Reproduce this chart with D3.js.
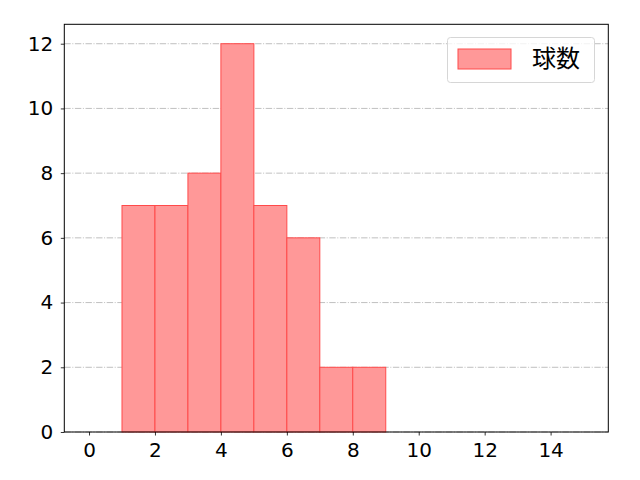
<!DOCTYPE html>
<html>
<head>
  <meta charset="utf-8">
  <script src="https://d3js.org/d3.v7.min.js"></script>
  <style>
    body {
      margin: 0;
      background-color: #ffffff;
      overflow: hidden;
    }
    text {
      font-family: "DejaVu Sans", "Noto Sans CJK JP", sans-serif;
    }
  </style>
</head>
<body>
  <script>
    // histogram bins (left edges, width 1) and counts
    const binStarts = [1, 2, 3, 4, 5, 6, 7, 8];
    const counts = [7, 7, 8, 12, 7, 6, 2, 2];
    const xTicks = [0, 2, 4, 6, 8, 10, 12, 14];
    const yTicks = [0, 2, 4, 6, 8, 10, 12];
    const seriesName = "球数";

    const width = 640;
    const height = 480;
    const margin = { top: 24.3, right: 31.7, bottom: 48, left: 64.3 };

    const svg = d3.select("body").append("svg")
      .attr("width", width)
      .attr("height", height);

    const x = d3.scaleLinear()
      .domain([-0.75, 15.75])
      .range([margin.left, width - margin.right]);

    const y = d3.scaleLinear()
      .domain([0, 12.6])
      .range([height - margin.bottom, margin.top]);

    // grid
    svg.append("g")
      .selectAll("line")
      .data(yTicks)
      .enter().append("line")
      .attr("x1", margin.left)
      .attr("x2", width - margin.right)
      .attr("y1", d => y(d))
      .attr("y2", d => y(d))
      .attr("stroke", "#b0b0b0")
      .attr("stroke-width", 0.8)
      .attr("stroke-dasharray", "6.4,1.6,1,1.6");

    // bars
    svg.append("g")
      .selectAll("rect")
      .data(binStarts.map((b, i) => ({ b, v: counts[i] })))
      .enter().append("rect")
      .attr("x", d => x(d.b))
      .attr("width", d => x(d.b + 1) - x(d.b))
      .attr("y", d => y(d.v))
      .attr("height", d => y(0) - y(d.v))
      .attr("fill", "#ff9898")
      .attr("stroke", "#ff4a4a")
      .attr("stroke-width", 1);

    // axes
    const xAxis = svg.append("g")
      .attr("transform", `translate(0,${height - margin.bottom})`)
      .call(d3.axisBottom(x).tickValues(xTicks).tickSize(3.5).tickPadding(7.5));

    const yAxis = svg.append("g")
      .attr("transform", `translate(${margin.left},0)`)
      .call(d3.axisLeft(y).tickValues(yTicks).tickSize(3.5).tickPadding(7.5));

    [xAxis, yAxis].forEach(ax => {
      ax.select(".domain").remove();
      ax.selectAll("line").attr("stroke", "#000").attr("stroke-width", 0.8);
      ax.selectAll("text")
        .attr("fill", "#000")
        .style("font-family", "'DejaVu Sans', sans-serif")
        .style("font-size", "20px");
    });

    // frame
    svg.append("rect")
      .attr("x", margin.left)
      .attr("y", margin.top)
      .attr("width", width - margin.left - margin.right)
      .attr("height", height - margin.top - margin.bottom)
      .attr("fill", "none")
      .attr("stroke", "#000")
      .attr("stroke-width", 1);

    // legend
    const legend = svg.append("g");
    legend.append("rect")
      .attr("x", 447.5)
      .attr("y", 37.5)
      .attr("width", 147)
      .attr("height", 45)
      .attr("rx", 3)
      .attr("fill", "#fff")
      .attr("fill-opacity", 0.8)
      .attr("stroke", "#d6d6d6")
      .attr("stroke-width", 1);
    legend.append("rect")
      .attr("x", 458)
      .attr("y", 49)
      .attr("width", 53)
      .attr("height", 20)
      .attr("fill", "#ff9898")
      .attr("stroke", "#ff4a4a")
      .attr("stroke-width", 1);
    legend.append("text")
      .attr("x", 532)
      .attr("y", 66.5)
      .attr("fill", "#000")
      .style("font-family", "'Noto Sans CJK JP', sans-serif")
      .style("font-size", "24px")
      .text(seriesName);
  </script>
</body>
</html>
